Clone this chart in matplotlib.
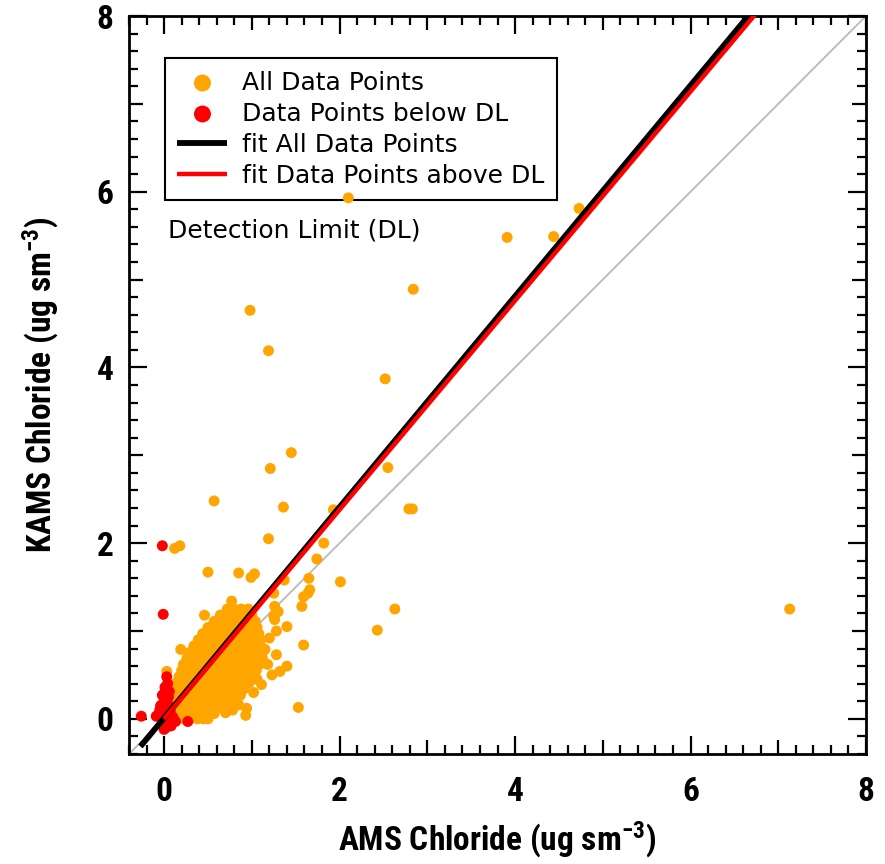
import matplotlib
matplotlib.use('Agg')
import matplotlib.pyplot as plt
from matplotlib.ticker import MultipleLocator, FuncFormatter

# ---------------- data ----------------
# scattered / isolated points of "All Data Points"
outlier_x = [2.10, 3.91, 4.44, 4.73, 2.84, 0.98, 1.19, 2.52, 1.45, 1.21, 2.55, 0.57, 1.36,
             2.79, 2.83, 1.93, 1.19, 0.12, 0.18, 1.82, 1.74, 0.50, 0.85, 0.99, 1.03, 1.37,
             1.65, 2.01, 1.66, 1.64, 1.59, 1.57, 2.43, 2.63, 7.13, 1.59, 1.53, 1.40, 1.25,
             0.77, 0.46, 0.19, 1.26, 1.30, 1.25, 1.26, 1.28, 1.28, 1.15, 1.40, 1.32, 1.23,
             1.11, 1.06, 0.85, 0.94, 0.93, 0.38, 0.03, 0.78, 0.70, 1.02, 1.18, 1.20]
outlier_y = [5.93, 5.48, 5.49, 5.81, 4.89, 4.65, 4.19, 3.87, 3.03, 2.85, 2.86, 2.48, 2.41,
             2.39, 2.39, 2.38, 2.05, 1.94, 1.97, 2.00, 1.82, 1.67, 1.66, 1.61, 1.65, 1.58,
             1.60, 1.56, 1.47, 1.43, 1.39, 1.28, 1.01, 1.25, 1.25, 0.84, 0.13, 1.05, 1.43,
             1.34, 1.18, 0.79, 1.28, 1.22, 1.17, 1.13, 1.00, 0.73, 0.79, 0.60, 0.54, 0.50,
             0.39, 0.45, 0.16, 0.12, 0.04, 0.04, 0.54, 0.10, 0.07, 0.30, 0.62, 0.92]

# dense cluster of "All Data Points", listed row by row (KAMS value: AMS values)
cluster_rows = {
    0.00: [0.14, 0.22, 0.30, 0.38, 0.45, 0.50],
    0.06: [0.10, 0.18, 0.26, 0.34, 0.42, 0.50, 0.57],
    0.13: [0.09, 0.16, 0.24, 0.32, 0.40, 0.48, 0.56, 0.63, 0.67],
    0.20: [0.10, 0.18, 0.26, 0.34, 0.42, 0.50, 0.58, 0.66, 0.73, 0.77],
    0.27: [0.11, 0.19, 0.27, 0.35, 0.43, 0.51, 0.59, 0.67, 0.75, 0.82, 0.87],
    0.34: [0.12, 0.20, 0.28, 0.36, 0.44, 0.52, 0.60, 0.68, 0.76, 0.84, 0.91],
    0.41: [0.14, 0.22, 0.30, 0.38, 0.46, 0.54, 0.62, 0.70, 0.78, 0.86, 0.92, 0.97],
    0.48: [0.17, 0.25, 0.33, 0.41, 0.49, 0.57, 0.65, 0.73, 0.81, 0.89, 0.96, 1.01],
    0.55: [0.20, 0.28, 0.36, 0.44, 0.52, 0.60, 0.68, 0.76, 0.84, 0.92, 0.99, 1.05],
    0.62: [0.22, 0.30, 0.38, 0.46, 0.54, 0.62, 0.70, 0.78, 0.86, 0.94, 1.02, 1.09],
    0.69: [0.26, 0.34, 0.42, 0.50, 0.58, 0.66, 0.74, 0.82, 0.90, 0.98, 1.05, 1.12],
    0.76: [0.30, 0.38, 0.46, 0.54, 0.62, 0.70, 0.78, 0.86, 0.94, 1.02, 1.08, 1.12],
    0.83: [0.34, 0.42, 0.50, 0.58, 0.66, 0.74, 0.82, 0.90, 0.98, 1.05, 1.10],
    0.90: [0.39, 0.47, 0.55, 0.63, 0.71, 0.79, 0.87, 0.95, 1.03, 1.10],
    0.97: [0.44, 0.52, 0.60, 0.68, 0.76, 0.84, 0.92, 1.00, 1.08],
    1.04: [0.50, 0.58, 0.66, 0.74, 0.82, 0.90, 0.98, 1.06],
    1.11: [0.57, 0.65, 0.73, 0.81, 0.89, 0.97, 1.04],
    1.18: [0.64, 0.72, 0.80, 0.88, 0.96, 1.00],
    1.25: [0.72, 0.80, 0.88, 0.96],
}

# "Data Points below DL"
below_x = [-0.02, -0.01, -0.26, 0.27, 0.03, 0.04, 0.02, -0.02, 0.05, 0.00, -0.04, 0.03,
           0.00, -0.06, -0.09, 0.05, 0.02, 0.08, 0.13, 0.04, -0.03, 0.10, 0.02, 0.08,
           0.01, 0.06, -0.05, 0.07, 0.00, 0.04]
below_y = [1.97, 1.19, 0.03, -0.03, 0.48, 0.40, 0.33, 0.27, 0.25, 0.20, 0.15, 0.13,
           0.08, 0.05, 0.03, 0.04, -0.02, -0.03, -0.03, -0.06, 0.00, 0.02, -0.10, -0.08,
           0.36, 0.31, 0.10, 0.09, -0.12, 0.18]

# linear fits (slope, intercept, x-range)
fit_all = (1.20, 0.01, [-0.27, 8.0])
fit_above = (1.19, 0.00, [0.0, 8.0])

xlim = (-0.4, 8.0)
ylim = (-0.4, 8.0)

# ---------------- style ----------------
plt.rcParams['font.family'] = ['DejaVu Sans']
plt.rcParams['mathtext.default'] = 'regular'
narrow = ['Roboto Condensed', 'Archivo Narrow', 'PT Sans Narrow', 'Liberation Sans', 'DejaVu Sans']

all_x = list(outlier_x)
all_y = list(outlier_y)
for yv, xs in cluster_rows.items():
    all_x += xs
    all_y += [yv] * len(xs)

fig = plt.figure(figsize=(8.85, 8.64), dpi=100)
ax = fig.add_axes([129 / 885, 110 / 864, 737 / 885, 738 / 864])

ax.plot(xlim, ylim, color='#bdbdbd', lw=1.4, zorder=1)
ax.scatter(all_x, all_y, s=62, color='#FFA500', edgecolors='none', zorder=2,
           label='All Data Points')
ax.scatter(below_x, below_y, s=62, color='#FF0000', edgecolors='none', zorder=3,
           label='Data Points below DL')
for (m, b, xr), col, lw, lab in [(fit_all, 'black', 4.2, 'fit All Data Points'),
                                 (fit_above, '#FF0000', 3.2, 'fit Data Points above DL')]:
    ax.plot(xr, [m * xr[0] + b, m * xr[1] + b], color=col, lw=lw,
            solid_capstyle='butt', zorder=4, label=lab)

ax.set_xlim(*xlim)
ax.set_ylim(*ylim)

for axis in (ax.xaxis, ax.yaxis):
    axis.set_major_locator(MultipleLocator(1))
    axis.set_minor_locator(MultipleLocator(0.2))
    axis.set_major_formatter(FuncFormatter(lambda v, p: '%d' % round(v) if round(v) % 2 == 0 else ''))

ax.tick_params(which='both', direction='in', top=True, right=True, width=1.6, color='black')
ax.tick_params(which='major', length=13)
ax.tick_params(which='minor', length=6.5)
ax.tick_params(axis='x', which='major', pad=16)
ax.tick_params(axis='y', which='major', pad=11)
for sp in ax.spines.values():
    sp.set_linewidth(2)

for t in ax.get_xticklabels() + ax.get_yticklabels():
    t.set_fontfamily(narrow)
    t.set_fontweight('bold')
    t.set_fontsize(24)

# medium ticks at odd integers
for axis in (ax.xaxis, ax.yaxis):
    locs = axis.get_majorticklocs()
    ticks = axis.get_major_ticks(len(locs))
    for loc, tk in zip(locs, ticks):
        if round(loc) % 2 != 0:
            tk.tick1line.set_markersize(10)
            tk.tick2line.set_markersize(10)

ax.set_xlabel('AMS Chloride (ug sm$^{-3}$)', fontfamily=narrow, fontweight='bold',
              fontsize=24, labelpad=8)
ax.set_ylabel('KAMS Chloride (ug sm$^{-3}$)', fontfamily=narrow, fontweight='bold',
              fontsize=24, labelpad=26)

leg = ax.legend(loc='upper left', bbox_to_anchor=(0.0488, 0.943), borderaxespad=0,
                fontsize=18, frameon=True, fancybox=False, edgecolor='black',
                markerscale=1.55, handlelength=2.0, handletextpad=0.6,
                labelspacing=0.28, borderpad=0.5, scatterpoints=1)
leg.get_frame().set_linewidth(1.5)
leg.get_frame().set_alpha(1)
leg.set_zorder(1.5)

ax.text(0.053, 0.710, 'Detection Limit (DL)', transform=ax.transAxes, fontsize=18,
        va='center', ha='left')

fig.savefig('out.png', dpi=100)
